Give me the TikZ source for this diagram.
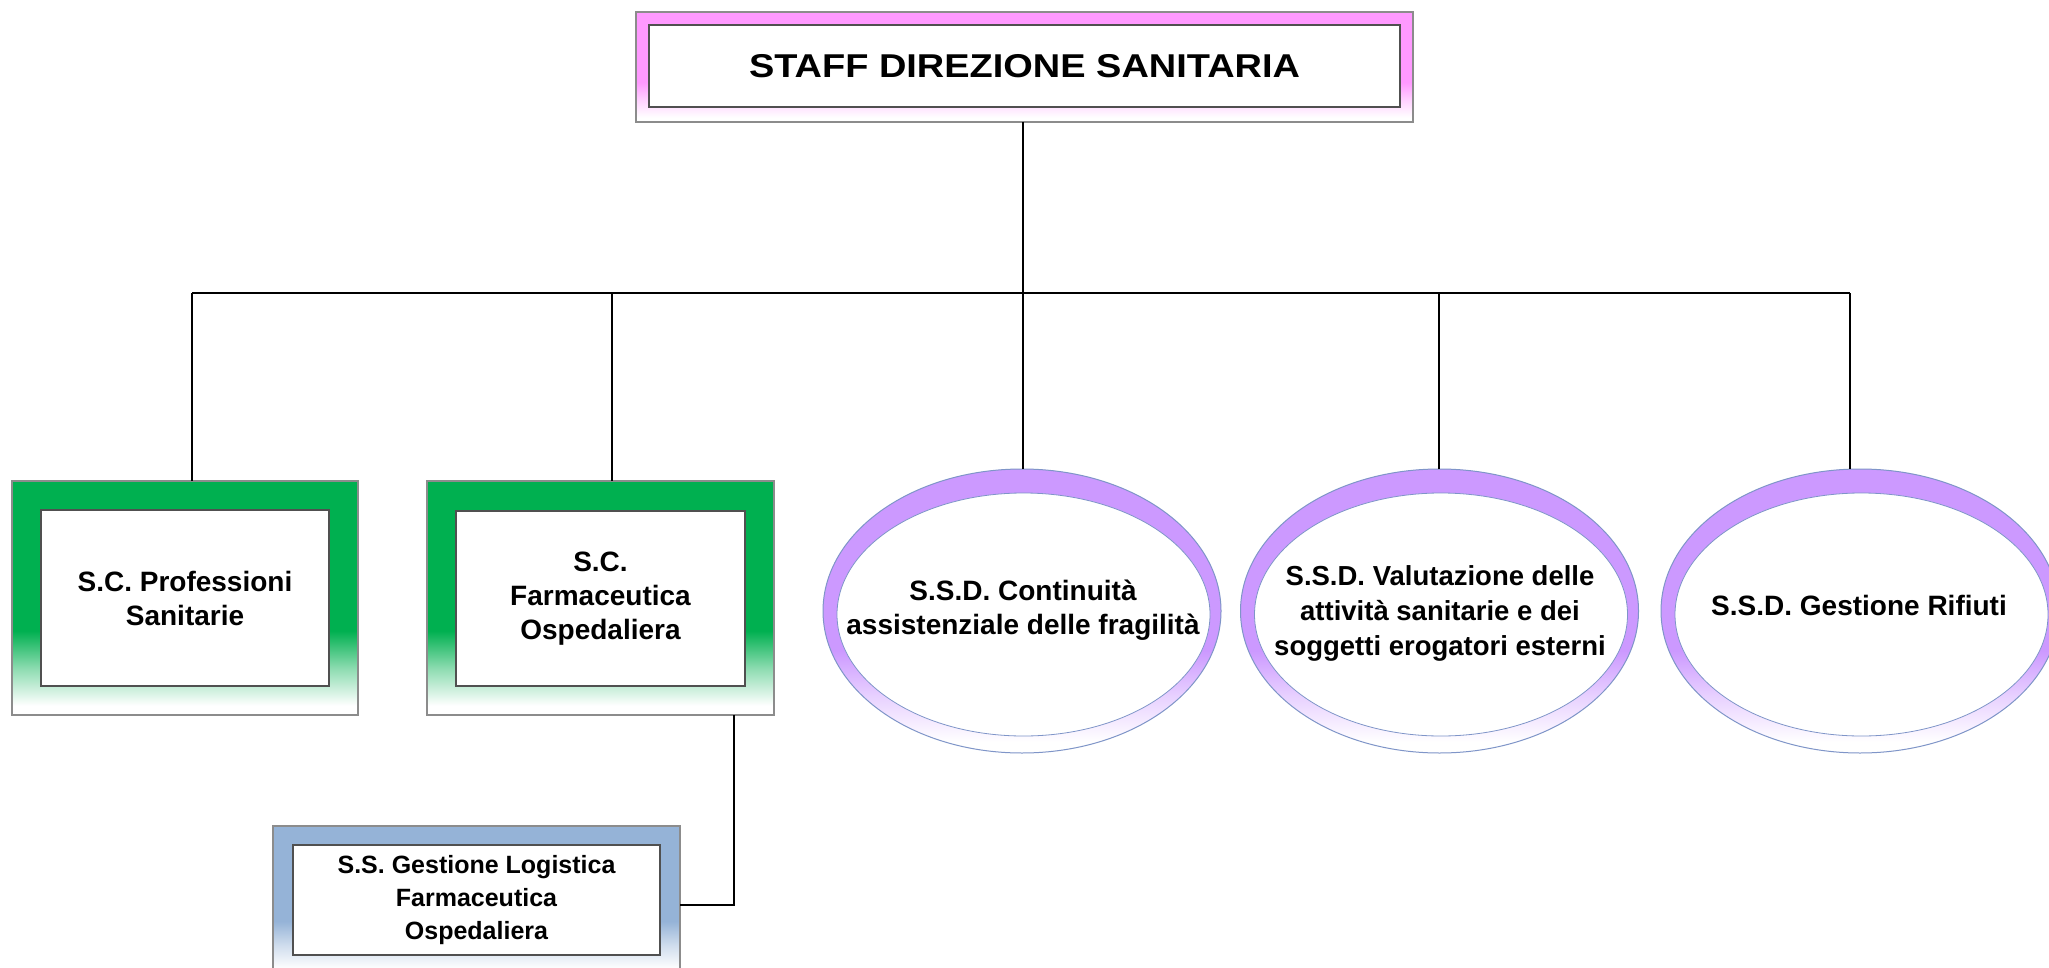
\documentclass[tikz,border=0pt]{standalone}
\usepackage{fontspec}
\setmainfont{Liberation Sans}
\newfontfamily\titlefont[FakeStretch=1.15]{Liberation Sans}
\usetikzlibrary{shapes.geometric}

\definecolor{pinkfill}{HTML}{FF99FF}
\definecolor{greenfill}{HTML}{00B050}
\definecolor{bluefill}{HTML}{95B3D7}
\definecolor{lilacfill}{HTML}{CC99FF}
\definecolor{rimline}{HTML}{7F95C8}
\definecolor{frameline}{HTML}{8C8C8C}
\definecolor{innerline}{HTML}{505050}

% frame colour fading to white towards the bottom edge
\pgfdeclareverticalshading{pinkfade}{100bp}{color(0bp)=(white); color(27bp)=(white); color(35bp)=(pinkfill!45); color(43bp)=(pinkfill); color(100bp)=(pinkfill)}
\pgfdeclareverticalshading{greenfade}{100bp}{color(0bp)=(white); color(27bp)=(white); color(35bp)=(greenfill!45); color(43bp)=(greenfill); color(100bp)=(greenfill)}
\pgfdeclareverticalshading{bluefade}{100bp}{color(0bp)=(white); color(27bp)=(white); color(35bp)=(bluefill!45); color(43bp)=(bluefill); color(100bp)=(bluefill)}
\pgfdeclareverticalshading{lilacfade}{100bp}{color(0bp)=(white); color(27bp)=(white); color(35bp)=(lilacfill!45); color(43bp)=(lilacfill); color(100bp)=(lilacfill)}

\tikzset{
  frame/.style={rectangle, inner sep=0pt, outer sep=0pt, draw=frameline, line width=1.2pt},
  panel/.style={rectangle, inner sep=0pt, outer sep=0pt, draw=innerline, line width=1.2pt, fill=white, align=center,
    font=\bfseries\fontsize{28}{34}\selectfont},
  ring/.style={ellipse, inner sep=0pt, outer sep=0pt, draw=rimline, line width=1pt, minimum width=398pt, minimum height=284pt},
  hole/.style={ellipse, inner sep=0pt, outer sep=0pt, draw=rimline, line width=0.8pt, fill=white, minimum width=373pt, minimum height=243pt},
  caption/.style={inner sep=0pt, align=center, font=\bfseries\fontsize{28}{34}\selectfont},
  link/.style={draw=black, line width=1.2pt}
}

\begin{document}
\begin{tikzpicture}[x=1pt, y=-1pt]
\clip (0,0) rectangle (2049,968);
\fill[white] (0,0) rectangle (2049,968);

% head of the staff
\node[frame, shading=pinkfade, minimum width=777pt, minimum height=110pt] (top) at (1024.5,67) {};
\node[panel, minimum width=751pt, minimum height=82pt, font=\titlefont\bfseries\fontsize{33}{40}\selectfont] (topin) at (1024.5,66) {STAFF DIREZIONE SANITARIA};

% complex structures
\node[frame, shading=greenfade, minimum width=346pt, minimum height=234pt] (b1) at (185,598) {};
\node[panel, minimum width=288pt, minimum height=176pt] (b1in) at (185,598) {S.C. Professioni\\Sanitarie};

\node[frame, shading=greenfade, minimum width=347pt, minimum height=234pt] (b2) at (600.5,598) {};
\node[panel, minimum width=289pt, minimum height=175pt] (b2in) at (600.5,598.5) {S.C.\\Farmaceutica\\Ospedaliera};

% simple structure
\node[frame, shading=bluefade, minimum width=407pt, minimum height=149pt] (b3) at (476.5,900.5) {};
\node[panel, minimum width=367pt, minimum height=110pt, font=\bfseries\fontsize{25}{33}\selectfont] (b3in) at (476.5,900) {S.S. Gestione Logistica\\Farmaceutica\\Ospedaliera};

% departmental simple structures
\node[ring, shading=lilacfade] (e1) at (1022,611) {};
\node[hole] (e1in) at (1023.5,614.5) {};
\node[caption] (t1) at (1023,610) {S.S.D. Continuità\\assistenziale delle fragilità};

\node[ring, shading=lilacfade] (e2) at (1439.5,611) {};
\node[hole] (e2in) at (1441,614.5) {};
\node[caption, font=\bfseries\fontsize{27.5}{35}\selectfont] (t2) at (1440,613) {S.S.D. Valutazione delle\\attività sanitarie e dei\\soggetti erogatori esterni};

\node[ring, shading=lilacfade] (e3) at (1860,611) {};
\node[hole] (e3in) at (1861.5,614.5) {};
\node[caption] (t3) at (1859,605) {S.S.D. Gestione Rifiuti};

% connectors
\coordinate (hub) at (1023,293);
\coordinate (dropA) at (192,293);
\coordinate (dropB) at (612,293);
\coordinate (dropD) at (1439,293);
\coordinate (dropE) at (1850,293);
\coordinate (elbow) at (734,905);

\draw[link] (top.south -| hub) -- (hub);
\draw[link] (dropA) -- (dropE);
\draw[link] (dropA) -- (dropA |- b1.north);
\draw[link] (dropB) -- (dropB |- b2.north);
\draw[link] (hub) -- (hub |- e1.north);
\draw[link] (dropD) -- (dropD |- e2.north);
\draw[link] (dropE) -- (dropE |- e3.north);
\draw[link] (elbow |- b2.south) -- (elbow) -- (elbow -| b3.east);
\end{tikzpicture}
\end{document}
